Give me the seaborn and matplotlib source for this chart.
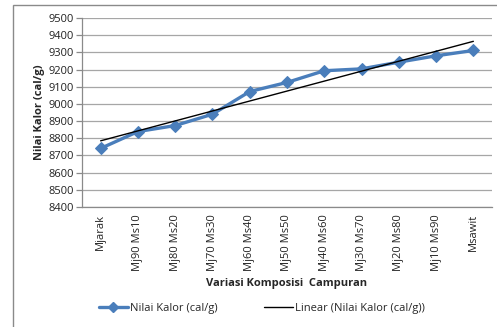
import numpy as np
import pandas as pd
import matplotlib
matplotlib.use("Agg")
import matplotlib.pyplot as plt
from matplotlib.lines import Line2D
from matplotlib.patches import Rectangle
import seaborn as sns

categories = ["Mjarak", "Mj90 Ms10", "Mj80 Ms20", "Mj70 Ms30", "Mj60 Ms40",
              "Mj50 Ms50", "Mj40 Ms60", "Mj30 Ms70", "Mj20 Ms80", "Mj10 Ms90", "Msawit"]
nilai_kalor = [8741, 8839, 8874, 8940, 9072, 9125, 9193, 9204, 9243, 9280, 9311]
y_ticks = list(range(8400, 9501, 100))

sns.set_style("white")
plt.rcParams["font.family"] = ["Open Sans", "DejaVu Sans"]

pos = np.arange(len(categories))
df = pd.DataFrame({"pos": pos, "kategori": categories, "nilai": nilai_kalor})
slope, intercept = np.polyfit(df["pos"], df["nilai"], 1)
df["linear"] = intercept + slope * df["pos"]

fig = plt.figure(figsize=(4.97, 3.27), dpi=100)
fig.patches.append(Rectangle((13 / 497, -0.01), 1.1, 1 - 5 / 327 + 0.01,
                             transform=fig.transFigure, fill=False,
                             edgecolor="#8a8a8a", linewidth=1.0))
ax = fig.add_axes([82 / 497, 1 - 207 / 327, (492 - 82) / 497, (207 - 18) / 327])

blue = "#4A7EBB"
fs = 8
sns.lineplot(data=df, x="pos", y="nilai", ax=ax, color=blue, linewidth=2.4,
             marker="D", markersize=6, markeredgecolor=blue, zorder=3)
sns.lineplot(data=df, x="pos", y="linear", ax=ax, color="black", linewidth=1.0,
             zorder=4)

ax.set_xlim(-0.5, len(categories) - 0.5)
ax.set_ylim(8400, 9500)
ax.set_yticks(y_ticks)
ax.set_yticklabels([str(v) for v in y_ticks], fontsize=fs, color="#222222")
ax.grid(axis="y", color="#a6a6a6", linewidth=0.9)
ax.set_axisbelow(True)

ax.set_xticks(pos)
ax.set_xticklabels(categories, rotation=90, fontsize=fs, color="#222222", va="top")
ax.set_xticks(np.arange(-0.5, len(categories), 1.0), minor=True)
ax.tick_params(axis="x", which="major", length=0, pad=5)
ax.tick_params(axis="x", which="minor", length=4, color="#8a8a8a", width=0.9)
ax.tick_params(axis="y", length=4, color="#8a8a8a", width=0.9, pad=2,
               left=True)

for side in ["top", "right"]:
    ax.spines[side].set_visible(False)
for side in ["left", "bottom"]:
    ax.spines[side].set_color("#8a8a8a")
    ax.spines[side].set_linewidth(0.9)

ax.set_xlabel("Variasi Komposisi  Campuran", fontsize=fs, fontweight="bold",
              labelpad=5)
ax.set_ylabel("Nilai Kalor (cal/g)", fontsize=fs, fontweight="bold", labelpad=2)

handles = [
    Line2D([0], [0], color=blue, linewidth=2.4, marker="D", markersize=5),
    Line2D([0], [0], color="black", linewidth=1.0),
]
fig.legend(handles, ["Nilai Kalor (cal/g)", "Linear (Nilai Kalor (cal/g))"],
           loc="center", bbox_to_anchor=(262 / 497, 1 - 308 / 327), ncol=2,
           frameon=False, fontsize=fs, handlelength=2.6, handletextpad=0.2,
           columnspacing=4.2)

fig.savefig("out.png", dpi=100)
